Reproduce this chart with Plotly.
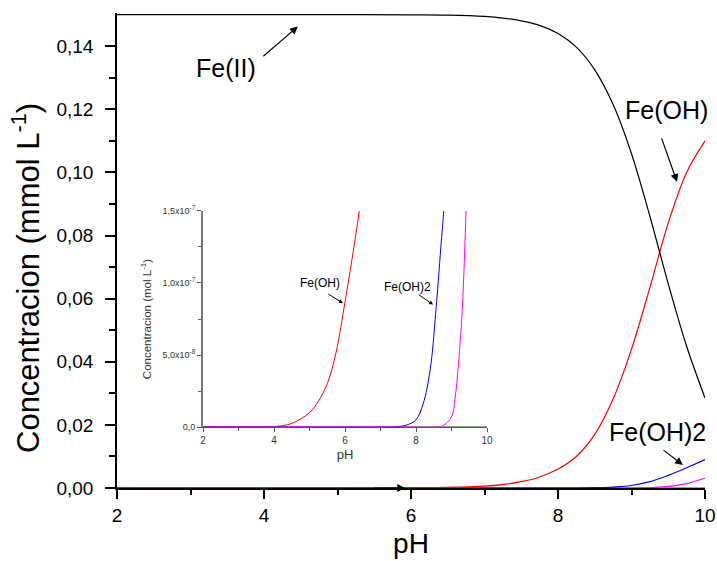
import plotly.graph_objects as go

# ---------------- data ----------------
ph_main = [2, 3, 4, 5, 6, 6.5, 7, 7.25, 7.5, 7.75, 8, 8.25, 8.5, 8.75, 9, 9.25, 9.5, 9.75, 10]
fe_ii = [0.1500, 0.1500, 0.1500, 0.1500, 0.1499, 0.1498, 0.1494, 0.1489, 0.1480, 0.1466,
         0.1440, 0.1397, 0.1325, 0.1215, 0.1059, 0.0861, 0.0647, 0.0449, 0.0285]
fe_oh = [0, 0, 0, 0, 0.0001, 0.0002, 0.0006, 0.0011, 0.0020, 0.0035,
         0.0060, 0.0100, 0.0170, 0.0282, 0.0440, 0.0635, 0.0840, 0.1000, 0.1100]
fe_oh2 = [0, 0, 0, 0, 0, 0, 0, 0, 0, 0,
          0, 0, 0.0001, 0.0003, 0.0008, 0.0020, 0.0040, 0.0064, 0.0090]
fe_oh3 = [0, 0, 0, 0, 0, 0, 0, 0, 0, 0,
          0, 0, 0, 0, 0, 0.0001, 0.0005, 0.0014, 0.0031]
fe_oh4 = [0] * 19

# inset (mol/L)
ph_in_r = [2, 3, 4, 4.5, 5, 5.25, 5.5, 5.75, 6, 6.2, 6.4, 6.6]
in_r = [0, 0, 3e-10, 2.5e-9, 1.0e-8, 1.8e-8, 3.0e-8, 5.2e-8, 8.7e-8, 1.17e-7, 1.5e-7, 1.95e-7]
ph_in_b = [2, 4, 6, 7, 7.5, 7.75, 8, 8.2, 8.4, 8.55, 8.7, 8.78, 8.9]
in_b = [0, 0, 0, 0, 3e-10, 1.5e-9, 5e-9, 1.6e-8, 4e-8, 7.8e-8, 1.25e-7, 1.5e-7, 1.95e-7]
ph_in_m = [2, 4, 6, 8, 8.5, 8.75, 9, 9.1, 9.2, 9.3, 9.41, 9.5]
in_m = [0, 0, 0, 0, 0, 8e-10, 7e-9, 2e-8, 4.5e-8, 8e-8, 1.5e-7, 2.1e-7]
ph_in_g = [2, 10]
in_g = [0, 0]

x_ticks = [2, 4, 6, 8, 10]
x_ticktext = ["2", "4", "6", "8", "10"]
y_ticks = [0, 0.02, 0.04, 0.06, 0.08, 0.10, 0.12, 0.14]
y_ticktext = ["0,00", "0,02", "0,04", "0,06", "0,08", "0,10", "0,12", "0,14"]
in_y_ticks = [0, 5e-8, 1e-7, 1.5e-7]
in_y_ticktext = ["0,0", "5,0x10<sup>-8</sup>", "1,0x10<sup>-7</sup>", "1,5x10<sup>-7</sup>"]

FONT = "Liberation Sans, Arial, sans-serif"
W, H = 717, 561
ML, MR, MT, MB = 117, 12, 13, 73
PW, PH = W - ML - MR, H - MT - MB

fig = go.Figure()

def line(x, y, color, xa="x", ya="y", w=1.2):
    fig.add_trace(go.Scatter(x=x, y=y, mode="lines", xaxis=xa, yaxis=ya,
                             line=dict(color=color, width=w, shape="spline", smoothing=1.0),
                             showlegend=False, hoverinfo="skip"))

# main
line(ph_main, fe_oh4, "#006600")
line(ph_main, fe_oh3, "#ff00ff")
line(ph_main, fe_oh2, "#0000ff")
line(ph_main, fe_oh, "#ff0000")
line(ph_main, fe_ii, "#000000")
# inset
line(ph_in_g, in_g, "#006600", "x2", "y2", 1.0)
line(ph_in_r, in_r, "#ff0000", "x2", "y2", 1.0)
line(ph_in_b, in_b, "#0000ff", "x2", "y2", 1.0)
line(ph_in_m, in_m, "#ff00ff", "x2", "y2", 1.0)

fig.update_layout(
    width=W, height=H,
    margin=dict(l=ML, r=MR, t=MT, b=MB, autoexpand=False),
    paper_bgcolor="white", plot_bgcolor="white",
    font=dict(family=FONT, color="#000"),
    xaxis=dict(range=[2, 10], domain=[0, 1], showgrid=False, zeroline=False, automargin=False,
               showline=True, linecolor="#000", linewidth=1.5,
               ticks="outside", ticklen=9, tickwidth=1.5, tickcolor="#000",
               tickvals=x_ticks, ticktext=x_ticktext, tickfont=dict(size=19),
               minor=dict(tickvals=[3, 5, 7, 9], ticks="outside", ticklen=5, tickwidth=1.5, tickcolor="#000"),
               title=dict(text="pH", font=dict(size=28), standoff=9)),
    yaxis=dict(range=[0, 0.1505], domain=[0, 1], showgrid=False, zeroline=False, automargin=False,
               showline=True, linecolor="#000", linewidth=1.5,
               ticks="outside", ticklen=10, tickwidth=1.5, tickcolor="#000",
               ticklabelstandoff=8,
               tickvals=y_ticks, ticktext=y_ticktext, tickfont=dict(size=19),
               minor=dict(tickvals=[0.01, 0.03, 0.05, 0.07, 0.09, 0.11, 0.13], ticks="outside",
                          ticklen=6, tickwidth=1.5, tickcolor="#000")),
    xaxis2=dict(range=[2, 10], domain=[0.1463, 0.6293], anchor="y2", showgrid=False, zeroline=False,
                automargin=False, showline=True, linecolor="#555", linewidth=1,
                ticks="outside", ticklen=4, tickwidth=1, tickcolor="#555",
                tickvals=x_ticks, ticktext=x_ticktext, tickfont=dict(size=10, color="#333"),
                minor=dict(tickvals=[3, 5, 7, 9], ticks="outside", ticklen=3, tickwidth=1, tickcolor="#555"),
                title=dict(text="pH", font=dict(size=13, color="#333"), standoff=4)),
    yaxis2=dict(range=[0, 1.5e-7], domain=[0.1284, 0.5832], anchor="x2", showgrid=False, zeroline=False,
                automargin=False, showline=True, linecolor="#777", linewidth=2,
                ticks="outside", ticklen=4, tickwidth=1, tickcolor="#555",
                tickvals=in_y_ticks, ticktext=in_y_ticktext, tickfont=dict(size=9, color="#333"),
                minor=dict(tickvals=[2.5e-8, 7.5e-8, 1.25e-7], ticks="outside", ticklen=3, tickwidth=1, tickcolor="#555"),
                title=dict(text="Concentracion (mol L<sup>-1</sup>)", font=dict(size=11.5, color="#333"), standoff=9)),
)

# main y-axis title (placed lower than centre, as in the reference); paper coords are plot-area relative
fig.add_annotation(x=(26 - ML) / PW, y=(H - MB - 278) / PH, xref="paper", yref="paper",
                   xanchor="center", yanchor="middle",
                   text="Concentracion (mmol L<sup>-1</sup>)", textangle=-90, showarrow=False,
                   font=dict(size=31, family=FONT, color="#000"))

def label(x, y, text, size, xr="x", yr="y"):
    fig.add_annotation(x=x, y=y, xref=xr, yref=yr, text=text, showarrow=False,
                       font=dict(size=size, family=FONT, color="#000"))

def arrow(x, y, ax, ay, xr="x", yr="y", size=1.0, w=1.2):
    fig.add_annotation(x=x, y=y, xref=xr, yref=yr, ax=ax, ay=ay, text="", showarrow=True,
                       arrowhead=2, arrowsize=size, arrowwidth=w, arrowcolor="#000")

# main annotations
label(3.48, 0.1332, "Fe(II)", 25)
arrow(4.46, 0.1462, -36, 31, size=1.3)
label(9.48, 0.1199, "Fe(OH)", 25)
arrow(9.62, 0.0970, -16, -45, size=1.3)
label(9.35, 0.0178, "Fe(OH)2", 25)
arrow(9.70, 0.0073, -21, -16, size=1.3)
arrow(5.92, 0.0, -32, 0, size=1.3)
# inset annotations
label(5.30, 1.0e-7, "Fe(OH)", 12, "x2", "y2")
arrow(5.94, 8.6e-8, -16, -10, "x2", "y2", size=0.8, w=1)
label(7.77, 9.7e-8, "Fe(OH)2", 12, "x2", "y2")
arrow(8.48, 8.5e-8, -16, -11, "x2", "y2", size=0.8, w=1)

fig.write_html("out.html", config={"displayModeBar": False},
               post_script="document.body.style.margin='0';document.body.style.overflow='hidden';")
